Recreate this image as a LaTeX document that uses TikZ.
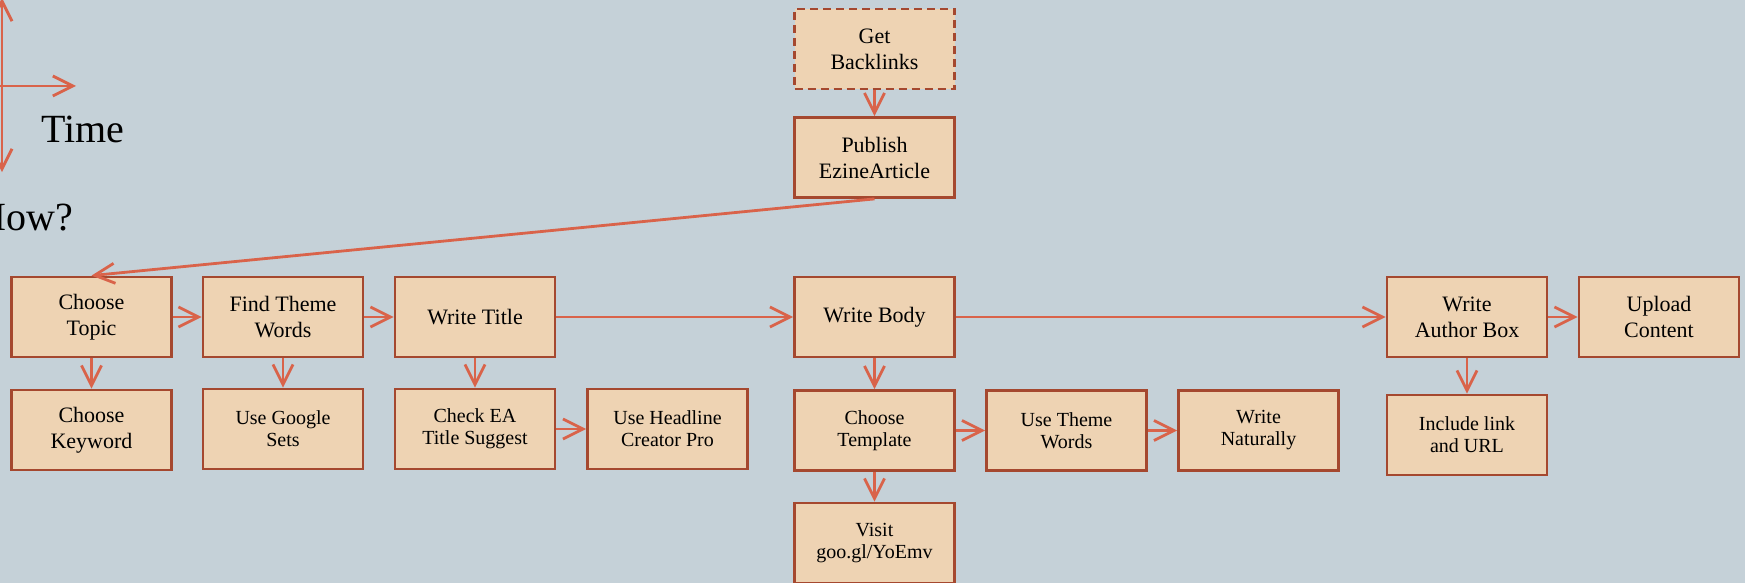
\documentclass[tikz,border=0pt]{standalone}
\usepackage{fontspec}
\setmainfont{Liberation Serif}
\usetikzlibrary{arrows.meta}
\definecolor{slate}{HTML}{C5D1D8}
\definecolor{peach}{HTML}{EED3B3}
\definecolor{rust}{HTML}{A5482F}
\definecolor{coral}{HTML}{D9634A}
\begin{document}
\begin{tikzpicture}[x=.5pt,y=-.5pt,>={Straight Barb[length=10pt,width=10pt]},
  task/.style={draw=rust,fill=peach,line width=1.4pt,minimum width=80pt,minimum height=40pt,inner sep=2pt,align=center,font=\fontsize{11}{13}\selectfont},
  subtask/.style={task,font=\fontsize{10}{11}\selectfont},
  flow/.style={->,draw=coral,line width=1.4pt}]
\useasboundingbox (0,0) rectangle (1745,583);
\clip (0,0) rectangle (1745,583);
\fill[slate] (0,0) rectangle (1745,583);

% axes, cut off at the left
\coordinate (axtop) at (2,-2);
\coordinate (axbot) at (2,172);
\coordinate (axmid) at (0,86);
\coordinate (axend) at (76,86);
\draw[flow,<->] (axtop) -- (axbot);
\draw[flow] (axmid) -- (axend);
\node[anchor=base west,font=\fontsize{20}{24}\selectfont] (time) at (34,142) {Time};
\node[anchor=base east,font=\fontsize{20}{24}\selectfont] (how) at (80,230) {How?};

\node[task,dashed,dash pattern=on 4pt off 2.5pt] (getlinks) at (874.5,49) {Get\\Backlinks};
\node[task] (publish) at (874.5,157.5) {Publish\\EzineArticle};

\node[task] (topic) at (91.5,317) {Choose\\Topic};
\node[task] (themewords) at (283,317) {Find Theme\\Words};
\node[task] (title) at (475,317) {Write Title};
\node[task] (body) at (874.5,317) {Write Body};
\node[task] (authorbox) at (1467,317) {Write\\Author Box};
\node[task] (upload) at (1659,317) {Upload\\Content};

\node[task] (keyword) at (91.5,430) {Choose\\Keyword};
\node[subtask] (gsets) at (283,429) {Use Google\\Sets};
\node[subtask] (checkea) at (475,429) {Check EA\\Title Suggest};
\node[subtask] (headline) at (667.5,429) {Use Headline\\Creator Pro};
\node[subtask] (template) at (874.5,430.5) {Choose\\Template};
\node[subtask] (usetheme) at (1066.5,430.5) {Use Theme\\Words};
\node[subtask] (natural) at (1258.5,430.5) {Write\\Naturally};
\node[subtask] (visit) at (874.5,543) {Visit\\goo.gl/YoEmv};
\node[subtask] (urlbox) at (1467,435) {Include link\\and URL};

\draw[flow] (getlinks) -- (publish);
\draw[flow] (publish.south) -- (topic.north);

\draw[flow] (topic) -- (themewords);
\draw[flow] (themewords) -- (title);
\draw[flow] (title) -- (body);
\draw[flow] (body) -- (authorbox);
\draw[flow] (authorbox) -- (upload);

\draw[flow] (topic) -- (keyword);
\draw[flow] (themewords) -- (gsets);
\draw[flow] (title) -- (checkea);
\draw[flow] (checkea) -- (headline);
\draw[flow] (body) -- (template);
\draw[flow] (template) -- (usetheme);
\draw[flow] (usetheme) -- (natural);
\draw[flow] (template) -- (visit);
\draw[flow] (authorbox) -- (urlbox);
\end{tikzpicture}
\end{document}
